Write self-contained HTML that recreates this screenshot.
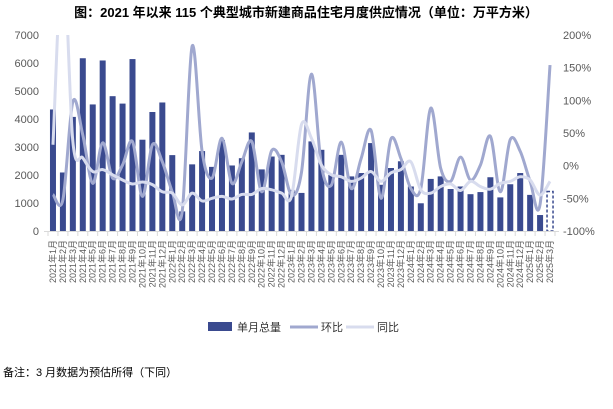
<!DOCTYPE html>
<html><head><meta charset="utf-8">
<style>
html,body{margin:0;padding:0;background:#fff;}
body{width:613px;height:404px;overflow:hidden;font-family:"Liberation Sans","Noto Sans CJK SC",sans-serif;}
</style></head>
<body>
<svg id="chart" width="613" height="404" xmlns="http://www.w3.org/2000/svg" style="font-family:'Liberation Sans','Noto Sans CJK SC',sans-serif">
<text x="306" y="17" text-anchor="middle" font-size="13" font-weight="bold" fill="#000">图：2021 年以来 115 个典型城市新建商品住宅月度供应情况（单位：万平方米）</text>
<defs><clipPath id="plotclip"><rect x="44" y="35" width="515" height="197"/></clipPath></defs>
<g id="grid"></g>
<g id="bars"></g>
<g id="lines" clip-path="url(#plotclip)"></g>
<g id="axes"></g>
<g>
  <rect x="208" y="322" width="24" height="9" fill="#3a4a8f"/>
  <text x="237" y="331" font-size="11" fill="#333">单月总量</text>
  <line x1="290" y1="327" x2="318" y2="327" stroke="#a0a8cf" stroke-width="3"/>
  <text x="321" y="331" font-size="11" fill="#333">环比</text>
  <line x1="346" y1="327" x2="374" y2="327" stroke="#d8dcee" stroke-width="3"/>
  <text x="377" y="331" font-size="11" fill="#333">同比</text>
</g>
<text x="3" y="376" font-size="11" fill="#000">备注：3 月数据为预估所得（下同）</text>
</svg>
<script>
const categories = [];
for (let y = 2021; y <= 2025; y++) for (let m = 1; m <= 12; m++) { if (y === 2025 && m > 3) break; categories.push(y + '年' + m + '月'); }
const totals = [4340,2090,4075,6170,4520,6090,4815,4550,6140,3260,4250,4590,2710,700,2380,2855,2290,3250,2340,2600,3520,2200,2660,2720,1470,1360,3200,2900,2000,2720,1950,2070,3140,1650,2250,2490,1590,990,1860,1950,1500,1590,1315,1390,1920,1200,1670,2070,1290,570,1410];
const mom = [-44,-52,98,47,-27,35,-19,1,37,-47,32,6,-40,-70,183,22,-19,42,-27,6,37,-40,23,6,-45,-10,140,0,-30,36,-35,11,54,-50,41,11,-35,-35,88,-4,-24,13,-22,1,45,-40,40,22,-24,-59,154];
const yoy = [32,320,37,12,-9,-6,-14,-22,-28,-25,-29,-40,-42,-60,-42,-54,-50,-47,-51,-44,-44,-35,-37,-42,-47,63,42,1,-14,-17,-24,-19,-9,-24,-11,-6,6,-37,-42,-32,-28,-38,-24,-32,-36,-27,-24,-17,-22,-45,-24];
const leftTicks = [0,1000,2000,3000,4000,5000,6000,7000];
const rightTicks = [-100,-50,0,50,100,150,200];

const NS = 'http://www.w3.org/2000/svg';
const X0 = 48, X1 = 555, Y0 = 231, Y1 = 35;
const slot = (X1 - X0) / categories.length;
const xc = i => X0 + slot * (i + 0.5);
const yL = v => Y0 - (v / 7000) * (Y0 - Y1);
const yR = p => Y0 - ((p + 100) / 300) * (Y0 - Y1);
function mk(tag, attrs, parent) { const e = document.createElementNS(NS, tag); for (const k in attrs) e.setAttribute(k, attrs[k]); parent.appendChild(e); return e; }
const gBars = document.getElementById('bars'), gLines = document.getElementById('lines'), gAxes = document.getElementById('axes');

totals.forEach((v, i) => {
  const last = i === totals.length - 1;
  const r = mk('rect', { x: xc(i) - 3, y: yL(v), width: 6, height: Y0 - yL(v), fill: last ? '#fff' : '#3a4a8f' }, gBars);
  if (last) { r.setAttribute('stroke', '#3a4a8f'); r.setAttribute('stroke-width', '1.5'); r.setAttribute('stroke-dasharray', '3,2'); }
  
  
});

function smooth(vals, fy) {
  const pts = vals.map((v, i) => [xc(i), fy(v)]);
  let d = 'M' + pts[0][0] + ',' + pts[0][1];
  for (let i = 0; i < pts.length - 1; i++) {
    const p0 = pts[Math.max(0, i - 1)], p1 = pts[i], p2 = pts[i + 1], p3 = pts[Math.min(pts.length - 1, i + 2)];
    const t = 1 / 6;
    d += ' C' + (p1[0] + (p2[0] - p0[0]) * t) + ',' + (p1[1] + (p2[1] - p0[1]) * t) + ' ' + (p2[0] - (p3[0] - p1[0]) * t) + ',' + (p2[1] - (p3[1] - p1[1]) * t) + ' ' + p2[0] + ',' + p2[1];
  }
  return d;
}
const lm = mk('path', { d: smooth(mom, yR), fill: 'none', stroke: '#a0a8cf', 'stroke-width': 3 }, gLines);


const ly = mk('path', { d: smooth(yoy, yR), fill: 'none', stroke: '#d8dcee', 'stroke-width': 3 }, gLines);



const ax = mk('line', { x1: X0 - 4, y1: Y0 + 0.5, x2: X1 + 4, y2: Y0 + 0.5, stroke: '#d9d9d9', 'stroke-width': 1 }, gAxes);


for (let i = 0; i <= categories.length; i++) {
  const tx = X0 + slot * i;
  mk('line', { x1: tx, y1: Y0, x2: tx, y2: Y0 + 5, stroke: '#d9d9d9' }, gAxes);
}
categories.forEach((c, i) => {
  const t = mk('text', { x: 0, y: 0, transform: 'translate(' + (xc(i) + 3) + ',' + (Y0 + 9) + ') rotate(-90)', 'text-anchor': 'end', 'font-size': 9, fill: '#595959' }, gAxes);
  t.textContent = c;
  
  
});
leftTicks.forEach(v => {
  const t = mk('text', { x: 39, y: yL(v) + 4, 'text-anchor': 'end', 'font-size': 11, fill: '#595959' }, gAxes);
  t.textContent = v;
  
  
});
rightTicks.forEach(p => {
  const t = mk('text', { x: 563, y: yR(p) + 4, 'text-anchor': 'start', 'font-size': 11, fill: '#595959' }, gAxes);
  t.textContent = p + '%';
  
  
});
</script>
</body></html>
